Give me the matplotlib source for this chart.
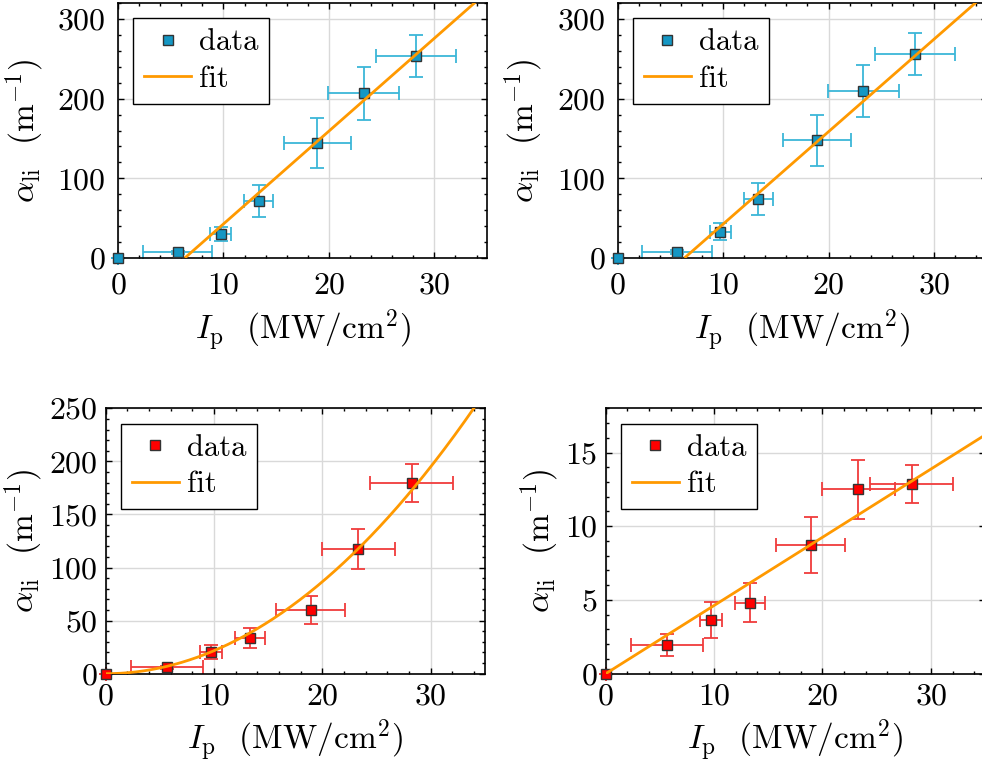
import numpy as np
import matplotlib.pyplot as plt
from matplotlib.ticker import AutoMinorLocator, MultipleLocator

plt.rcParams['font.family'] = 'serif'
plt.rcParams['font.serif'] = ['cmr10']
plt.rcParams['mathtext.fontset'] = 'cm'
plt.rcParams['axes.formatter.use_mathtext'] = True

# Dados
ip = [0.0, 5.65, 9.72, 13.33, 18.9, 23.3, 28.22]
ip_err = [0.0, 3.3, 1.0, 1.37, 3.2, 3.35, 3.8]

# painel superior esquerdo
alpha_a = [0.0, 7.1, 30.0, 71.3, 144.3, 206.5, 253.7]
alpha_a_err = [0.0, 2.0, 9.0, 20.0, 31.0, 33.0, 26.0]
# painel superior direito
alpha_b = [0.0, 7.5, 33.0, 73.8, 148.0, 209.4, 256.2]
alpha_b_err = [0.0, 2.0, 11.0, 20.0, 32.0, 33.0, 26.0]
# painel inferior esquerdo
alpha_c = [0.0, 6.0, 20.4, 33.3, 60.0, 117.5, 179.3]
alpha_c_err = [0.0, 1.5, 6.5, 9.3, 13.0, 18.5, 18.0]
# painel inferior direito
alpha_d = [0.0, 1.95, 3.65, 4.82, 8.76, 12.52, 12.86]
alpha_d_err = [0.0, 0.76, 1.23, 1.33, 1.9, 2.0, 1.28]

# parâmetros dos ajustes
fit_a = (11.65, 6.33)   # inclinação, limiar
fit_b = (11.6, 6.33)
fit_c = 0.2167          # alpha = c * I^2
fit_d = 0.4625          # alpha = k * I

blue, blue_err = '#1597c4', '#3bb6d8'
red, red_err = '#ff0000', '#f03c3c'
orange = '#ff9900'

fig = plt.figure(figsize=(9.82, 7.62), dpi=100)
positions = [
    [0.1202, 0.6614, 0.3758, 0.3346],
    [0.6290, 0.6614, 0.3758, 0.3346],
    [0.1076, 0.1159, 0.3863, 0.3483],
    [0.6168, 0.1159, 0.3863, 0.3483],
]

xs = np.linspace(0, 35, 300)
fits = [
    np.where(xs >= fit_a[1], fit_a[0] * (xs - fit_a[1]), np.nan),
    np.where(xs >= fit_b[1], fit_b[0] * (xs - fit_b[1]), np.nan),
    fit_c * xs ** 2,
    fit_d * xs,
]
panels = [
    (alpha_a, alpha_a_err, blue, blue_err, 320, 100),
    (alpha_b, alpha_b_err, blue, blue_err, 320, 100),
    (alpha_c, alpha_c_err, red, red_err, 250, 50),
    (alpha_d, alpha_d_err, red, red_err, 18, 5),
]
# (pad x, pad y, labelpad x, labelpad y) - linha de baixo mais compacta
pads = [(10, 9, 6, 8), (10, 9, 6, 8), (6.5, 6, 5, 3), (6.5, 6, 5, 3)]

for pos, (y, yerr, cor, cor_err, ytop, ymaj), fy, pd in zip(positions, panels, fits, pads):
    ax = fig.add_axes(pos)
    ax.errorbar(ip, y, xerr=ip_err, yerr=yerr, fmt='none', ecolor=cor_err,
                elinewidth=1.3, capsize=5, capthick=1.3, clip_on=False, zorder=2)
    ax.plot(ip, y, 's', color=cor, mec='#333333', mew=1.0, ms=7.3,
            label='data', clip_on=False, zorder=3)
    ax.plot(xs, fy, color=orange, lw=2, label='fit', zorder=4)
    ax.set_xlim(0, 35)
    ax.set_ylim(0, ytop)
    ax.xaxis.set_major_locator(MultipleLocator(10))
    ax.yaxis.set_major_locator(MultipleLocator(ymaj))
    ax.xaxis.set_minor_locator(AutoMinorLocator(5))
    ax.yaxis.set_minor_locator(AutoMinorLocator(5))
    ax.tick_params(which='both', direction='in', top=True, right=True,
                   labelsize=23, width=1.0)
    ax.tick_params(axis='x', which='major', pad=pd[0])
    ax.tick_params(axis='y', which='major', pad=pd[1])
    ax.tick_params(which='major', length=4.5)
    ax.tick_params(which='minor', length=2.5)
    ax.grid(True, which='major', color='#d9d9d9', lw=1.0)
    ax.set_axisbelow(True)
    for s in ax.spines.values():
        s.set_linewidth(1.2)
    ax.set_xlabel(r'$I_{\mathrm{p}}$  (MW/cm$^2$)', fontsize=24, labelpad=pd[2])
    ax.set_ylabel(r'$\alpha_{\mathrm{li}}$  (m$^{-1}$)', fontsize=24, labelpad=pd[3])
    leg = ax.legend(loc='upper left', fontsize=22, fancybox=False,
                    edgecolor='black', framealpha=1, handlelength=1.55,
                    handletextpad=0.25, labelspacing=0.3, borderpad=0.35)
    leg.get_frame().set_linewidth(1.0)

fig.savefig('out.png', dpi=100)
